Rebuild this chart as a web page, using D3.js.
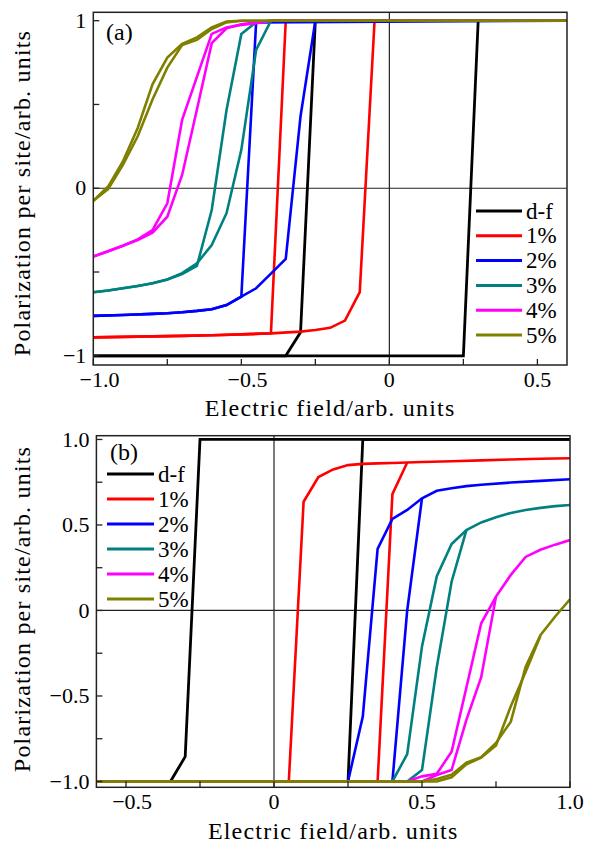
<!DOCTYPE html>
<html>
<head>
<meta charset="utf-8">
<script src="https://cdn.jsdelivr.net/npm/d3@7"></script>
<style>
  body { margin: 0; background: #fff; }
</style>
</head>
<body>
<div id="chart"></div>
<script>
// Series names and colours (same for both panels)
const seriesNames = ["d-f", "1%", "2%", "3%", "4%", "5%"];
const seriesColors = ["#000000", "#ff0000", "#0000ff", "#008080", "#ff00ff", "#808000"];

// Panel (a): each loop = [descending branch, ascending branch], points [E, P]
const a_df = [
  [[0.6, 1], [-0.25, 1], [-0.3, -0.86], [-0.35, -1], [-1, -1]],
  [[-1, -1], [0.25, -1], [0.3, 1], [0.6, 1]]
];
const a_1 = [
  [[0.6, 1], [-0.35, 1], [-0.4, -0.866], [-0.5, -0.872], [-0.6, -0.877], [-0.7, -0.881], [-0.8, -0.884], [-0.9, -0.887], [-1, -0.89]],
  [[-1, -0.89], [-0.9, -0.887], [-0.8, -0.884], [-0.7, -0.881], [-0.6, -0.877], [-0.5, -0.872], [-0.4, -0.866], [-0.3, -0.856], [-0.25, -0.846], [-0.2, -0.833], [-0.15, -0.79], [-0.1, -0.62], [-0.05, 1], [0.6, 1]]
];
const a_2 = [
  [[0.6, 1], [-0.45, 0.99], [-0.5, -0.647], [-0.55, -0.697], [-0.6, -0.722], [-0.65, -0.732], [-0.7, -0.74], [-0.75, -0.746], [-0.8, -0.75], [-0.9, -0.757], [-1, -0.762]],
  [[-1, -0.762], [-0.9, -0.757], [-0.8, -0.75], [-0.75, -0.746], [-0.7, -0.74], [-0.65, -0.732], [-0.6, -0.722], [-0.55, -0.697], [-0.5, -0.647], [-0.45, -0.597], [-0.4, -0.51], [-0.35, -0.422], [-0.3, 0.43], [-0.25, 1], [0.6, 1]]
];
const a_3 = [
  [[0.6, 1], [-0.4, 1], [-0.45, 0.99], [-0.5, 0.921], [-0.55, 0.467], [-0.6, -0.13], [-0.65, -0.464], [-0.7, -0.512], [-0.75, -0.545], [-0.8, -0.567], [-0.85, -0.583], [-0.9, -0.597], [-0.95, -0.61], [-1, -0.621]],
  [[-1, -0.621], [-0.95, -0.61], [-0.9, -0.597], [-0.85, -0.583], [-0.8, -0.567], [-0.75, -0.545], [-0.7, -0.507], [-0.65, -0.448], [-0.6, -0.339], [-0.55, -0.149], [-0.5, 0.229], [-0.45, 0.826], [-0.4, 1], [0.6, 1]]
];
const a_4 = [
  [[0.6, 1], [-0.4, 1], [-0.45, 0.985], [-0.5, 0.975], [-0.55, 0.96], [-0.6, 0.921], [-0.65, 0.665], [-0.7, 0.408], [-0.75, -0.09], [-0.8, -0.25], [-0.85, -0.305], [-0.9, -0.343], [-0.95, -0.376], [-1, -0.408]],
  [[-1, -0.408], [-0.95, -0.376], [-0.9, -0.343], [-0.85, -0.309], [-0.8, -0.265], [-0.75, -0.17], [-0.7, 0.079], [-0.65, 0.47], [-0.6, 0.866], [-0.55, 0.955], [-0.5, 0.978], [-0.45, 0.99], [-0.4, 1], [0.6, 1]]
];
const a_5 = [
  [[0.6, 1], [-0.5, 1], [-0.55, 0.995], [-0.6, 0.96], [-0.65, 0.9], [-0.7, 0.862], [-0.75, 0.78], [-0.8, 0.62], [-0.85, 0.36], [-0.9, 0.16], [-0.95, 0.01], [-1, -0.075]],
  [[-1, -0.075], [-0.95, -0.005], [-0.9, 0.14], [-0.85, 0.31], [-0.8, 0.53], [-0.75, 0.72], [-0.7, 0.855], [-0.65, 0.885], [-0.6, 0.95], [-0.55, 0.99], [-0.5, 1], [0.6, 1]]
];

// Panel (b)
const b_df = [
  [[1, 1], [-0.25, 1], [-0.3, -0.855], [-0.35, -1], [-0.6, -1]],
  [[-0.6, -1], [0.25, -1], [0.3, 1], [1, 1]]
];
const b_1 = [
  [[-0.6, -1], [0.05, -1], [0.1, 0.636], [0.15, 0.78], [0.2, 0.825], [0.25, 0.85], [0.3, 0.857], [0.35, 0.86], [0.4, 0.862], [0.45, 0.865], [0.5, 0.868], [0.6, 0.873], [0.7, 0.878], [0.8, 0.883], [0.9, 0.887], [1, 0.89]],
  [[-0.6, -1], [0.35, -1], [0.4, 0.68], [0.45, 0.865]]
];
const b_2 = [
  [[-0.6, -1], [0.25, -1], [0.3, -0.62], [0.35, 0.36], [0.4, 0.535], [0.45, 0.588], [0.5, 0.656], [0.55, 0.7], [0.6, 0.715], [0.65, 0.727], [0.7, 0.735], [0.8, 0.748], [0.9, 0.758], [1, 0.767]],
  [[-0.6, -1], [0.4, -1], [0.45, 0.0], [0.5, 0.656]]
];
const b_3 = [
  [[-0.6, -1], [0.4, -1], [0.45, -0.84], [0.5, -0.21], [0.55, 0.2], [0.6, 0.389], [0.65, 0.47], [0.7, 0.515], [0.75, 0.545], [0.8, 0.57], [0.85, 0.588], [0.9, 0.6], [0.95, 0.61], [1, 0.617]],
  [[-0.6, -1], [0.45, -1], [0.5, -0.933], [0.55, -0.33], [0.6, 0.168], [0.65, 0.47]]
];
const b_4 = [
  [[-0.6, -1], [0.45, -1], [0.5, -0.97], [0.55, -0.955], [0.6, -0.826], [0.65, -0.45], [0.7, -0.075], [0.75, 0.081], [0.8, 0.208], [0.85, 0.313], [0.9, 0.355], [0.95, 0.385], [1, 0.412]],
  [[-0.6, -1], [0.5, -1], [0.55, -0.962], [0.6, -0.933], [0.65, -0.64], [0.7, -0.39], [0.75, 0.081]]
];
const b_5 = [
  [[-0.6, -1], [0.5, -1], [0.55, -0.985], [0.6, -0.96], [0.65, -0.89], [0.7, -0.858], [0.75, -0.775], [0.8, -0.65], [0.85, -0.33], [0.9, -0.145], [0.95, -0.035], [1, 0.065]],
  [[-0.6, -1], [0.55, -1], [0.6, -0.975], [0.65, -0.9], [0.7, -0.86], [0.75, -0.79], [0.8, -0.56], [0.85, -0.36], [0.9, -0.15]]
];

// Ticks
const a_xTicks = [-1, -0.75, -0.5, -0.25, 0, 0.25, 0.5];
const a_xLabels = [-1, -0.5, 0, 0.5];
const a_yTicks = [-1, -0.5, 0, 0.5, 1];
const a_yLabels = [-1, 0, 1];
const b_xTicks = [-0.5, -0.25, 0, 0.25, 0.5, 0.75, 1];
const b_xLabels = [-0.5, 0, 0.5, 1];
const b_yTicks = [-1, -0.75, -0.5, -0.25, 0, 0.25, 0.5, 0.75, 1];
const b_yLabels = [-1, -0.5, 0, 0.5, 1];

const W = 602, H = 848;
const FONT = "'Liberation Serif', 'DejaVu Serif', serif";
const svg = d3.select("#chart").append("svg")
  .attr("width", W).attr("height", H)
  .attr("font-family", FONT)
  .style("font-family", FONT);

const fmt1 = d3.format(".1f");

function drawPanel(p) {
  const x = d3.scaleLinear().domain(p.xDomain).range([p.left, p.right]);
  const y = d3.scaleLinear().domain(p.yDomain).range([p.bottom, p.top]);
  const g = svg.append("g");

  g.append("clipPath").attr("id", p.id)
    .append("rect")
    .attr("x", p.left).attr("y", p.top)
    .attr("width", p.right - p.left).attr("height", p.bottom - p.top);

  // Nulllinien
  g.append("line")
    .attr("x1", x(0)).attr("x2", x(0))
    .attr("y1", p.top).attr("y2", p.bottom)
    .attr("stroke", "#222").attr("stroke-width", 1.2);
  g.append("line")
    .attr("x1", p.left).attr("x2", p.right)
    .attr("y1", y(0)).attr("y2", y(0))
    .attr("stroke", "#222").attr("stroke-width", 1.2);

  // Kurven
  const line = d3.line().x(d => x(d[0])).y(d => y(d[1]));
  const curves = g.append("g").attr("clip-path", `url(#${p.id})`);
  p.loops.forEach((loop, i) => {
    loop.forEach(branch => {
      curves.append("path")
        .datum(branch)
        .attr("fill", "none")
        .attr("stroke", seriesColors[i])
        .attr("stroke-width", i === 0 ? 2.8 : 2.6)
        .attr("d", line);
    });
  });

  // Rahmen
  g.append("rect")
    .attr("x", p.left).attr("y", p.top)
    .attr("width", p.right - p.left).attr("height", p.bottom - p.top)
    .attr("fill", "none").attr("stroke", "#222").attr("stroke-width", 1.5);

  // Ticks nach innen
  const tl = 6;
  g.selectAll(null).data(p.xTicks).enter().append("line")
    .attr("x1", d => x(d)).attr("x2", d => x(d))
    .attr("y1", p.bottom).attr("y2", p.bottom - tl)
    .attr("stroke", "#222").attr("stroke-width", 1.3);
  g.selectAll(null).data(p.yTicks).enter().append("line")
    .attr("x1", p.left).attr("x2", p.left + tl)
    .attr("y1", d => y(d)).attr("y2", d => y(d))
    .attr("stroke", "#222").attr("stroke-width", 1.3);

  // Tick-Beschriftung (Minuszeichen hängt links über)
  g.selectAll(null).data(p.xLabels).enter().append("text")
    .attr("x", d => x(d)).attr("y", p.bottom + 22)
    .attr("dx", d => d < 0 ? "0.28em" : 0)
    .attr("text-anchor", "middle")
    .attr("font-size", 22)
    .text(d => d === 0 ? "0" : fmt1(d));
  g.selectAll(null).data(p.yLabels).enter().append("text")
    .attr("x", p.left - 7).attr("y", d => y(d))
    .attr("dy", "0.33em")
    .attr("text-anchor", "end")
    .attr("font-size", 22)
    .text(p.yFormat);

  // Achsentitel
  g.append("text")
    .attr("x", (p.left + p.right) / 2).attr("y", p.xTitleY)
    .attr("text-anchor", "middle")
    .attr("font-size", 24).attr("letter-spacing", 1.2)
    .text("Electric field/arb. units");
  g.append("text")
    .attr("transform", `translate(30,${p.yTitleC}) rotate(-90)`)
    .attr("text-anchor", "middle")
    .attr("font-size", 24).attr("letter-spacing", 1.2)
    .text("Polarization per site/arb. units");

  // Panel-Label
  g.append("text")
    .attr("x", p.labelX).attr("y", p.labelY)
    .attr("font-size", 24)
    .text(p.label);

  // Legende
  const lg = g.append("g");
  seriesNames.forEach((name, i) => {
    const yy = p.legY + i * p.legStep;
    lg.append("line")
      .attr("x1", p.legX1).attr("x2", p.legX2)
      .attr("y1", yy).attr("y2", yy)
      .attr("stroke", seriesColors[i]).attr("stroke-width", 3);
    lg.append("text")
      .attr("x", p.legX2 + 4).attr("y", yy)
      .attr("dy", "0.33em")
      .attr("font-size", 23)
      .text(name);
  });
}

drawPanel({
  id: "clipA",
  left: 93.3, right: 567, top: 12.3, bottom: 365,
  xDomain: [-1, 0.6], yDomain: [-1.055, 1.05],
  loops: [a_df, a_1, a_2, a_3, a_4, a_5],
  xTicks: a_xTicks, xLabels: a_xLabels,
  yTicks: a_yTicks, yLabels: a_yLabels,
  yFormat: d => d === 0 ? "0" : d3.format("d")(d),
  xTitleY: 416, yTitleC: 193,
  label: "(a)", labelX: 106, labelY: 40,
  legX1: 476, legX2: 522, legY: 211, legStep: 24.8
});

drawPanel({
  id: "clipB",
  left: 96.4, right: 570, top: 435.7, bottom: 787.3,
  xDomain: [-0.6, 1], yDomain: [-1.034, 1.022],
  loops: [b_df, b_1, b_2, b_3, b_4, b_5],
  xTicks: b_xTicks, xLabels: b_xLabels,
  yTicks: b_yTicks, yLabels: b_yLabels,
  yFormat: d => d === 0 ? "0" : fmt1(d),
  xTitleY: 839, yTitleC: 609,
  label: "(b)", labelX: 110, labelY: 460,
  legX1: 107, legX2: 154, legY: 474, legStep: 25
});
</script>
</body>
</html>
